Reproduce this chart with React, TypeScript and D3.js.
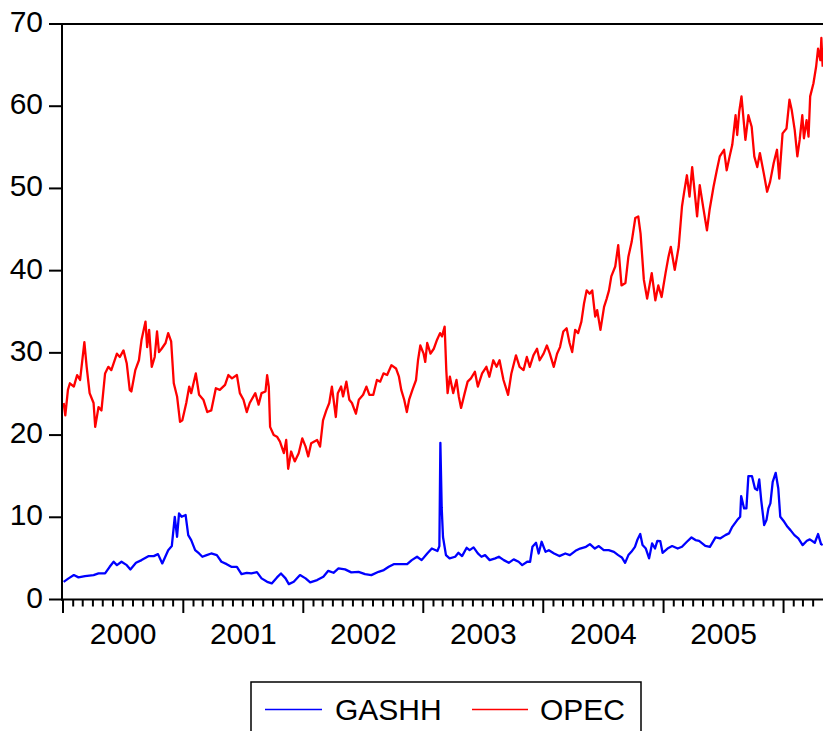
import React from "react";
import * as d3 from "d3";

const opecDates = [
  "2000-01-03","2000-01-08","2000-01-16","2000-01-22","2000-02-03","2000-02-13","2000-02-22","2000-03-06","2000-03-13","2000-03-22",
  "2000-04-03","2000-04-08","2000-04-18","2000-04-27","2000-05-08","2000-05-18","2000-05-27","2000-06-13","2000-06-22","2000-07-03",
  "2000-07-13","2000-07-22","2000-07-27","2000-08-08","2000-08-19","2000-08-27","2000-09-08","2000-09-13","2000-09-19","2000-09-27",
  "2000-10-06","2000-10-13","2000-10-19","2000-10-27","2000-11-08","2000-11-16","2000-11-25","2000-12-03","2000-12-13","2000-12-22",
  "2000-12-29","2001-01-10","2001-01-19","2001-01-25","2001-02-08","2001-02-18","2001-03-03","2001-03-15","2001-03-27","2001-04-10",
  "2001-04-22","2001-05-08","2001-05-18","2001-05-29","2001-06-13","2001-06-22","2001-07-03","2001-07-13","2001-07-22","2001-08-08",
  "2001-08-18","2001-08-27","2001-09-08","2001-09-13","2001-09-18","2001-09-22","2001-10-03","2001-10-13","2001-10-22","2001-11-03",
  "2001-11-10","2001-11-16","2001-11-25","2001-12-06","2001-12-18","2001-12-29","2002-01-08","2002-01-16","2002-01-25","2002-02-12",
  "2002-02-21","2002-03-02","2002-03-12","2002-03-21","2002-03-29","2002-04-10","2002-04-16","2002-04-26","2002-05-02","2002-05-12",
  "2002-05-21","2002-05-29","2002-06-10","2002-06-19","2002-07-02","2002-07-12","2002-07-21","2002-08-02","2002-08-13","2002-08-23",
  "2002-09-02","2002-09-13","2002-09-26","2002-10-10","2002-10-19","2002-10-26","2002-11-04","2002-11-12","2002-11-19","2002-11-29",
  "2002-12-10","2002-12-16","2002-12-23","2003-01-02","2003-01-07","2003-01-13","2003-01-23","2003-02-02","2003-02-12","2003-02-21",
  "2003-02-27","2003-03-07","2003-03-12","2003-03-16","2003-03-23","2003-04-02","2003-04-12","2003-04-19","2003-04-26","2003-05-07",
  "2003-05-16","2003-05-26","2003-06-07","2003-06-16","2003-06-29","2003-07-12","2003-07-21","2003-08-02","2003-08-12","2003-08-21",
  "2003-09-02","2003-09-16","2003-09-26","2003-10-10","2003-10-21","2003-11-02","2003-11-12","2003-11-21","2003-12-02","2003-12-13",
  "2003-12-21","2004-01-02","2004-01-12","2004-01-21","2004-02-02","2004-02-12","2004-02-21","2004-03-02","2004-03-12","2004-03-21",
  "2004-03-29","2004-04-07","2004-04-16","2004-04-26","2004-05-04","2004-05-12","2004-05-21","2004-05-29","2004-06-07","2004-06-13",
  "2004-06-23","2004-07-04","2004-07-12","2004-07-19","2004-07-26","2004-08-07","2004-08-16","2004-08-26","2004-09-07","2004-09-16",
  "2004-09-26","2004-10-07","2004-10-16","2004-10-23","2004-11-02","2004-11-12","2004-11-26","2004-12-07","2004-12-16","2004-12-26",
  "2005-01-07","2005-01-16","2005-01-23","2005-02-04","2005-02-16","2005-02-26","2005-03-04","2005-03-13","2005-03-21","2005-03-29",
  "2005-04-07","2005-04-13","2005-04-21","2005-05-02","2005-05-13","2005-05-21","2005-06-02","2005-06-12","2005-06-21","2005-07-04",
  "2005-07-12","2005-07-21","2005-07-29","2005-08-08","2005-08-13","2005-08-19","2005-08-26","2005-09-07","2005-09-16","2005-09-26",
  "2005-10-04","2005-10-13","2005-10-21","2005-11-02","2005-11-12","2005-11-21","2005-12-02","2005-12-12","2005-12-19","2005-12-29",
  "2006-01-10","2006-01-19","2006-01-26","2006-02-04","2006-02-12","2006-02-19","2006-02-27","2006-03-04","2006-03-12","2006-03-18",
  "2006-03-23","2006-04-02","2006-04-10","2006-04-16","2006-04-23","2006-04-26","2006-04-30"
];
const opecValues = [
  23.9,22.4,25.5,26.3,25.9,27.3,26.7,31.3,28.3,25.1,
  23.9,21.0,23.4,23.0,27.5,28.3,27.9,29.9,29.5,30.3,
  28.7,25.5,25.3,27.9,29.1,31.6,33.8,30.7,32.8,28.3,
  29.5,32.6,30.1,30.5,31.2,32.4,31.4,26.3,24.7,21.6,
  21.8,23.9,25.9,25.1,27.5,24.9,24.3,22.8,23.0,25.7,
  25.5,26.1,27.3,26.9,27.3,25.1,24.3,22.8,23.9,25.1,
  23.7,25.1,25.3,27.3,25.9,21.0,20.0,19.8,19.2,17.8,
  19.4,15.9,18.0,16.8,17.8,19.6,18.6,17.4,19.0,19.4,
  18.6,21.8,23.0,23.9,25.9,22.2,25.1,25.9,24.7,26.5,
  24.3,23.9,22.6,24.3,24.9,25.9,24.9,24.9,26.7,26.5,
  27.5,27.3,28.5,28.1,27.1,25.5,24.3,22.8,24.3,25.5,
  26.7,29.1,30.9,29.9,28.9,31.2,29.9,30.5,31.6,32.4,
  32.0,33.2,27.9,25.1,27.1,25.1,26.7,24.7,23.3,25.1,
  26.5,26.9,27.7,25.9,27.5,28.3,27.1,29.1,28.3,29.1,
  26.7,24.9,27.5,29.7,28.3,27.9,29.5,28.3,29.7,30.5,
  29.1,29.9,30.9,29.9,28.3,29.9,30.7,32.6,33.0,31.2,
  30.1,32.8,32.4,33.8,36.0,37.6,37.2,37.6,34.4,35.2,
  32.8,35.6,36.6,37.6,39.3,40.5,43.1,38.2,38.5,41.7,
  43.5,46.4,46.6,44.5,38.9,36.6,39.7,36.4,38.2,36.8,
  39.7,41.7,42.9,40.1,42.9,47.8,49.4,51.6,49.0,52.6,
  49.0,46.6,50.4,47.6,44.9,47.4,50.2,52.2,53.9,54.7,
  52.2,53.9,55.3,58.9,56.5,59.3,61.2,55.9,58.9,57.5,
  53.9,52.6,54.3,51.8,49.6,50.8,53.1,54.7,51.2,56.7,
  57.3,60.8,59.5,57.1,53.9,55.9,58.9,56.1,58.3,56.3,
  61.2,62.8,64.8,67.0,65.6,68.3,64.8
];

const gashhDates = [
  "2000-01-03","2000-01-18","2000-02-03","2000-02-17","2000-03-08","2000-04-03","2000-04-18","2000-05-08","2000-05-22","2000-06-03",
  "2000-06-13","2000-06-27","2000-07-13","2000-07-24","2000-08-10","2000-08-27","2000-09-18","2000-10-03","2000-10-16","2000-10-29",
  "2000-11-16","2000-11-27","2000-12-06","2000-12-13","2000-12-19","2000-12-27","2001-01-08","2001-01-16","2001-01-25","2001-02-06",
  "2001-02-18","2001-02-28","2001-03-13","2001-03-27","2001-04-13","2001-04-27","2001-05-13","2001-05-27","2001-06-13","2001-06-27",
  "2001-07-13","2001-07-27","2001-08-13","2001-08-27","2001-09-13","2001-09-27","2001-10-13","2001-10-25","2001-11-08","2001-11-18",
  "2001-12-03","2001-12-22","2002-01-08","2002-01-22","2002-02-12","2002-03-03","2002-03-18","2002-04-03","2002-04-18","2002-05-08",
  "2002-05-27","2002-06-18","2002-07-08","2002-07-27","2002-08-18","2002-09-03","2002-09-18","2002-10-03","2002-10-22","2002-11-13",
  "2002-11-27","2002-12-13","2002-12-27","2003-01-13","2003-01-27","2003-02-13","2003-02-19","2003-02-22","2003-02-26","2003-03-02",
  "2003-03-11","2003-03-22","2003-04-08","2003-04-18","2003-04-29","2003-05-13","2003-05-22","2003-06-03","2003-06-16","2003-06-27",
  "2003-07-08","2003-07-22","2003-08-08","2003-08-19","2003-09-03","2003-09-18","2003-10-03","2003-10-18","2003-10-29","2003-11-13",
  "2003-11-22","2003-11-29","2003-12-10","2003-12-18","2003-12-27","2004-01-08","2004-01-18","2004-02-03","2004-02-19","2004-03-08",
  "2004-03-22","2004-04-08","2004-04-22","2004-05-10","2004-05-22","2004-06-06","2004-06-18","2004-07-03","2004-07-18","2004-08-03",
  "2004-08-16","2004-08-27","2004-09-06","2004-09-16","2004-09-25","2004-10-06","2004-10-13","2004-10-22","2004-10-29","2004-11-08",
  "2004-11-18","2004-11-27","2004-12-06","2004-12-13","2004-12-22","2004-12-29","2005-01-13","2005-01-27","2005-02-13","2005-02-26",
  "2005-03-13","2005-03-27","2005-04-08","2005-04-19","2005-05-08","2005-05-22","2005-06-08","2005-06-22","2005-07-08","2005-07-19",
  "2005-07-29","2005-08-13","2005-08-22","2005-08-25","2005-09-03","2005-09-10","2005-09-16","2005-09-27","2005-10-06","2005-10-13",
  "2005-10-19","2005-10-25","2005-11-03","2005-11-10","2005-11-16","2005-11-22","2005-11-29","2005-12-08","2005-12-16","2005-12-22",
  "2006-01-03","2006-01-13","2006-01-22","2006-02-03","2006-02-15","2006-02-28","2006-03-13","2006-03-22","2006-04-06","2006-04-16",
  "2006-04-25","2006-04-30"
];
const gashhValues = [
  2.15,2.57,2.97,2.69,2.85,2.97,3.17,3.17,3.98,4.59,
  4.18,4.59,4.18,3.66,4.46,4.79,5.28,5.28,5.52,4.39,
  6.0,6.5,10.06,7.63,10.47,10.06,10.27,7.83,7.23,6.0,
  5.6,5.2,5.4,5.6,5.4,4.59,4.3,3.98,3.98,3.09,
  3.25,3.17,3.33,2.57,2.15,1.96,2.69,3.17,2.57,1.87,
  2.15,2.97,2.57,2.08,2.36,2.76,3.49,3.25,3.78,3.66,
  3.30,3.37,3.09,2.97,3.37,3.58,3.98,4.3,4.3,4.3,
  4.79,5.2,4.79,5.6,6.2,5.9,6.5,19.06,11.2,7.6,
  5.4,5.0,5.2,5.68,5.28,6.29,6.0,6.34,5.6,5.2,
  5.4,4.79,5.0,5.2,4.79,4.46,4.88,4.59,4.18,4.59,
  4.59,6.41,6.9,5.6,7.02,5.8,6.0,5.6,5.28,5.6,
  5.4,5.92,6.2,6.41,6.74,6.2,6.5,6.0,6.0,5.8,
  5.4,5.12,4.46,5.4,5.8,6.41,7.23,7.96,6.62,6.2,
  5.0,6.82,6.2,7.14,7.1,5.68,6.2,6.5,6.2,6.41,
  7.02,7.55,7.23,7.14,6.53,6.41,7.55,7.43,7.83,8.04,
  8.84,9.66,10.06,12.58,11.08,11.08,15.0,15.0,13.5,13.3,
  14.6,12.09,9.05,9.66,11.08,11.69,14.32,15.41,13.5,10.06,
  9.45,8.84,8.44,7.83,7.43,6.62,7.14,7.31,6.9,7.96,
  6.74,6.62
];

const yTicks = [0, 10, 20, 30, 40, 50, 60, 70];
const yearLabels = ["2000", "2001", "2002", "2003", "2004", "2005"];
const seriesNames = ["GASHH", "OPEC"];
const seriesColors = ["#0000FF", "#FF0000"];

const W = 823;
const H = 731;
const LEFT = 62;
const TOP = 24;
const BOTTOM = 599.5;
const FONT = "'Liberation Sans', Arial, Helvetica, sans-serif";

export default function App() {
  const parse = d3.timeParse("%Y-%m-%d");
  const start = new Date(2000, 0, 1);
  const end = new Date(2006, 4, 1);
  const x = d3.scaleTime().domain([start, end]).range([63, 823]);
  const y = d3.scaleLinear().domain([0, 70]).range([BOTTOM, TOP]);

  const line = d3
    .line<[Date, number]>()
    .x((d) => x(d[0]))
    .y((d) => y(d[1]));

  const gashh: [Date, number][] = gashhDates.map((d, i) => [parse(d) as Date, gashhValues[i]]);
  const opec: [Date, number][] = opecDates.map((d, i) => [parse(d) as Date, opecValues[i]]);

  const months = d3.timeMonth.range(start, end);

  return (
    <svg
      width={W}
      height={H}
      viewBox={`0 0 ${W} ${H}`}
      style={{ position: "absolute", left: 0, top: 0, background: "#fff" }}
    >
      <rect x={0} y={0} width={W} height={H} fill="#fff" />
      <defs>
        <clipPath id="plotclip">
          <rect x={LEFT} y={TOP - 2} width={W - LEFT} height={BOTTOM - TOP + 4} />
        </clipPath>
      </defs>

      {/* series */}
      <g clipPath="url(#plotclip)" fill="none" strokeLinejoin="round">
        <path d={line(gashh) || ""} stroke={seriesColors[0]} strokeWidth={2.3} />
        <path d={line(opec) || ""} stroke={seriesColors[1]} strokeWidth={2.3} />
      </g>

      {/* frame */}
      <line x1={LEFT} x2={W + 5} y1={TOP} y2={TOP} stroke="#000" strokeWidth={2} />
      <line x1={LEFT} x2={LEFT} y1={TOP - 1} y2={BOTTOM + 1} stroke="#000" strokeWidth={2} />
      <line x1={LEFT - 1} x2={W + 5} y1={BOTTOM} y2={BOTTOM} stroke="#000" strokeWidth={2} />

      {/* y axis */}
      {yTicks.map((t) => (
        <g key={t}>
          <line x1={49} x2={LEFT} y1={y(t)} y2={y(t)} stroke="#000" strokeWidth={2} />
          <text
            x={43}
            y={y(t) + 8}
            textAnchor="end"
            fontFamily={FONT}
            fontSize={30}
            fill="#000"
          >
            {t}
          </text>
        </g>
      ))}

      {/* x axis ticks */}
      {months.map((m, i) => {
        const major = m.getMonth() === 0;
        return (
          <line
            key={i}
            x1={x(m)}
            x2={x(m)}
            y1={BOTTOM}
            y2={BOTTOM + (major ? 13.5 : 7)}
            stroke="#000"
            strokeWidth={2}
          />
        );
      })}
      {yearLabels.map((yr) => {
        const a = new Date(+yr, 0, 1);
        const b = new Date(+yr + 1, 0, 1);
        return (
          <text
            key={yr}
            x={(x(a) + x(b)) / 2}
            y={643.5}
            textAnchor="middle"
            fontFamily={FONT}
            fontSize={30}
            fill="#000"
          >
            {yr}
          </text>
        );
      })}

      {/* legend */}
      <rect x={251} y={682} width={390} height={70} fill="#fff" stroke="#000" strokeWidth={1.5} />
      <line x1={265} x2={322} y1={709.5} y2={709.5} stroke={seriesColors[0]} strokeWidth={1.5} />
      <text x={335} y={720} fontFamily={FONT} fontSize={30} fill="#000">
        {seriesNames[0]}
      </text>
      <line x1={472} x2={528} y1={709.5} y2={709.5} stroke={seriesColors[1]} strokeWidth={1.5} />
      <text x={540} y={720} fontFamily={FONT} fontSize={30} fill="#000">
        {seriesNames[1]}
      </text>
    </svg>
  );
}
